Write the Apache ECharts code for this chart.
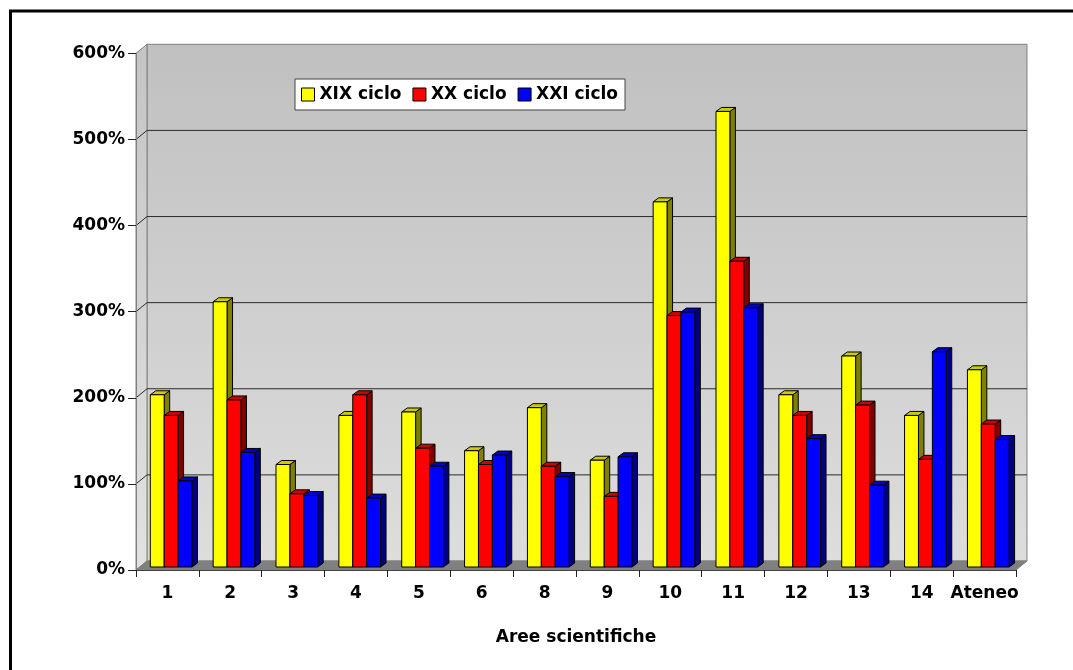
<!DOCTYPE html>
<html>
<head>
<meta charset="utf-8">
<script src="https://cdn.jsdelivr.net/npm/echarts@6/dist/echarts.min.js"></script>
<style>
  html, body { margin: 0; padding: 0; background: #fff; }
  #chart { width: 1073px; height: 670px; }
</style>
</head>
<body>
<div id="chart"></div>
<script>
// Scientific areas and the three doctoral cycles (values in %)
const categories = ['1', '2', '3', '4', '5', '6', '8', '9', '10', '11', '12', '13', '14', 'Ateneo'];
const cicloXIX = [200, 308, 119, 176, 180, 135, 185, 124, 424, 529, 200, 245, 176, 229];
const cicloXX  = [176, 194,  85, 200, 138, 119, 117,  82, 292, 355, 176, 188, 125, 166];
const cicloXXI = [100, 133,  83,  80, 117, 130, 105, 128, 296, 301, 149,  95, 250, 148];
const seriesNames = ['XIX ciclo', 'XX ciclo', 'XXI ciclo'];
const yMin = 0, yMax = 600, yStep = 100;

const FONT = 'DejaVu Sans';

// Pseudo-3D geometry: depth of the walls and of the bars
const WALL_DX = 11, WALL_DY = 9;
const BAR_SHIFT_X = 3.7, BAR_SHIFT_Y = 3;
const BAR_DEPTH_X = 5.5, BAR_DEPTH_Y = 4;
const BAR_FRAC = 0.221;

const palettes = [
  { front: '#ffff00', top: '#cccc00', side: '#808000' },
  { front: '#ff0000', top: '#cc0000', side: '#800000' },
  { front: '#0000ff', top: '#0000cc', side: '#000080' }
];

function wallsRenderer(params, api) {
  const cs = params.coordSys;
  const left = cs.x, right = cs.x + cs.width;
  const top = cs.y, bottom = cs.y + cs.height;
  const children = [];
  // back wall
  children.push({
    type: 'rect',
    shape: { x: left + WALL_DX, y: top - WALL_DY, width: cs.width, height: cs.height },
    style: {
      fill: new echarts.graphic.LinearGradient(0, 0, 0, 1, [
        { offset: 0, color: '#c0c0c0' }, { offset: 1, color: '#dddddd' }
      ]),
      stroke: '#808080', lineWidth: 1
    }
  });
  // side wall
  children.push({
    type: 'polygon',
    shape: { points: [[left, bottom], [left, top], [left + WALL_DX, top - WALL_DY], [left + WALL_DX, bottom - WALL_DY]] },
    style: {
      fill: new echarts.graphic.LinearGradient(0, 0, 0, 1, [
        { offset: 0, color: '#c4c4c4' }, { offset: 1, color: '#e2e2e2' }
      ]),
      stroke: '#808080', lineWidth: 1
    }
  });
  // floor
  children.push({
    type: 'polygon',
    shape: { points: [[left, bottom], [right, bottom], [right + WALL_DX, bottom - WALL_DY], [left + WALL_DX, bottom - WALL_DY]] },
    style: { fill: '#808080', stroke: '#808080', lineWidth: 1 }
  });
  // gridlines on the walls
  for (let v = yMin + yStep; v < yMax; v += yStep) {
    const y = api.coord([0, v])[1];
    children.push({
      type: 'polyline',
      shape: { points: [[left, y], [left + WALL_DX, y - WALL_DY], [right + WALL_DX, y - WALL_DY]] },
      style: { stroke: '#2a2a2a', lineWidth: 1, fill: null }
    });
  }
  return { type: 'group', children: children };
}

function barRenderer(idx) {
  const pal = palettes[idx];
  return function (params, api) {
    const cat = api.value(0), val = api.value(1);
    const base = api.coord([cat, 0]);
    const tip = api.coord([cat, val]);
    const band = api.size([1, 0])[0];
    const bw = band * BAR_FRAC;
    const x0 = base[0] - 1.5 * bw + idx * bw + BAR_SHIFT_X;
    const x1 = x0 + bw;
    const yb = base[1] - BAR_SHIFT_Y;
    const yt = tip[1] - BAR_SHIFT_Y;
    const dx = BAR_DEPTH_X, dy = BAR_DEPTH_Y;
    const edge = { stroke: '#000', lineWidth: 1 };
    return {
      type: 'group',
      children: [
        { type: 'polygon', shape: { points: [[x1, yt], [x1 + dx, yt - dy], [x1 + dx, yb - dy], [x1, yb]] },
          style: Object.assign({ fill: pal.side }, edge) },
        { type: 'polygon', shape: { points: [[x0, yt], [x1, yt], [x1 + dx, yt - dy], [x0 + dx, yt - dy]] },
          style: Object.assign({ fill: pal.top }, edge) },
        { type: 'rect', shape: { x: x0, y: yt, width: bw, height: yb - yt },
          style: Object.assign({ fill: pal.front }, edge) }
      ]
    };
  };
}

const seriesData = [cicloXIX, cicloXX, cicloXXI];

const chart = echarts.init(document.getElementById('chart'), null, { renderer: 'canvas' });

chart.setOption({
  animation: false,
  backgroundColor: '#fff',
  graphic: [{
    type: 'rect',
    shape: { x: 10.5, y: 11, width: 1200, height: 800 },
    style: { fill: null, stroke: '#000', lineWidth: 3 },
    silent: true
  }],
  grid: { left: 136, right: 57, top: 53.3, bottom: 100, containLabel: false },
  legend: {
    data: seriesNames,
    left: 295,
    top: 79,
    orient: 'horizontal',
    padding: [7, 7, 7, 6],
    itemGap: 11,
    itemWidth: 13,
    itemHeight: 13,
    icon: 'rect',
    backgroundColor: '#fff',
    borderColor: '#444',
    borderWidth: 1,
    selectedMode: false,
    itemStyle: { borderColor: '#000', borderWidth: 1 },
    textStyle: { fontFamily: FONT, fontWeight: 'bold', fontSize: 17, color: '#000', padding: [0, 0, 0, 0] }
  },
  xAxis: {
    type: 'category',
    data: categories,
    boundaryGap: true,
    z: 5,
    axisLine: { show: true, lineStyle: { color: '#444', width: 1 } },
    axisTick: { show: true, length: 7, interval: 0, lineStyle: { color: '#222' } },
    axisLabel: { interval: 0, margin: 15, fontFamily: FONT, fontWeight: 'bold', fontSize: 17, color: '#000' },
    splitLine: { show: false },
    name: 'Aree scientifiche',
    nameLocation: 'middle',
    nameGap: 59,
    nameTextStyle: { fontFamily: FONT, fontWeight: 'bold', fontSize: 17, color: '#000' }
  },
  yAxis: {
    type: 'value',
    min: yMin,
    max: yMax,
    interval: yStep,
    z: 5,
    axisLine: { show: true, lineStyle: { color: '#808080', width: 1 } },
    axisTick: { show: true, length: 8, lineStyle: { color: '#222' } },
    axisLabel: { margin: 11, formatter: '{value}%', fontFamily: FONT, fontWeight: 'bold', fontSize: 17, color: '#000' },
    splitLine: { show: false }
  },
  series: [
    {
      name: 'walls',
      type: 'custom',
      silent: true,
      z: 1,
      renderItem: wallsRenderer,
      data: [[0, 0]],
      encode: { x: 0, y: 1 }
    }
  ].concat(seriesData.map(function (vals, i) {
    return {
      name: seriesNames[i],
      type: 'custom',
      silent: true,
      z: 2,
      itemStyle: { color: palettes[i].front },
      renderItem: barRenderer(i),
      data: vals.map(function (v, k) { return [k, v]; }),
      encode: { x: 0, y: 1 }
    };
  }))
});
</script>
</body>
</html>
